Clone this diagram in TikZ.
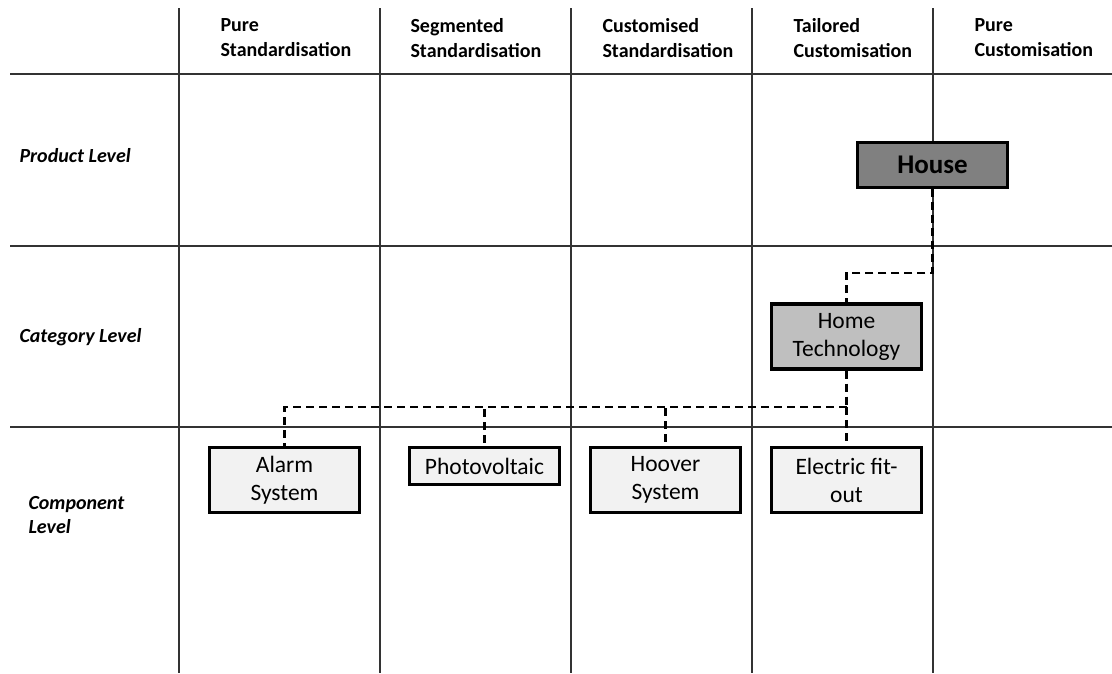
\documentclass[tikz,border=0pt]{standalone}
\usepackage{fontspec}
\setmainfont{Carlito}
\begin{document}
\begin{tikzpicture}[x=1pt,y=-1pt,
  grid/.style={line width=1.5pt,draw=black!80},
  colhead/.style={anchor=west,align=left,font=\fontsize{20}{25}\selectfont\bfseries},
  rowhead/.style={anchor=west,align=left,font=\fontsize{20}{24}\selectfont\bfseries\itshape},
  box/.style={draw=black,line width=3.4pt,minimum width=150pt,minimum height=65pt,
    align=center,inner sep=2pt,font=\fontsize{23.5}{28}\selectfont},
  comp/.style={box,fill=black!5},
  conn/.style={line width=2.3pt,dash pattern=on 8pt off 5pt}
]
\useasboundingbox (0,0) rectangle (1112,673);

% table grid
\foreach \xx in {179,380,571,752,933} \draw[grid] (\xx,8) -- (\xx,673);
\foreach \yy in {74,246,427} \draw[grid] (10,\yy) -- (1112,\yy);

% column headings
\node[colhead] (c1) at (217,38) {Pure\\Standardisation};
\node[colhead] (c2) at (407,38) {Segmented\\Standardisation};
\node[colhead] (c3) at (599,38) {Customised\\Standardisation};
\node[colhead] (c4) at (790,38) {Tailored\\Customisation};
\node[colhead] (c5) at (971,38) {Pure\\Customisation};

% row headings
\node[rowhead] (r1) at (16,156) {Product Level};
\node[rowhead] (r2) at (16,337) {Category Level};
\node[rowhead] (r3) at (25,515) {Component\\Level};

% hierarchy boxes
\node[box,fill=black!50,minimum height=45pt,font=\fontsize{27}{30}\selectfont\bfseries] (house) at (932.5,165) {House};
\node[box,fill=black!25] (ht) at (846.5,336.5) {Home\\Technology};
\node[comp] (alarm) at (284.5,480) {Alarm\\System};
\node[comp,minimum height=37pt] (pv) at (484.5,466) {Photovoltaic};
\node[comp] (hoover) at (665.5,480) {Hoover\\System};
\node[comp] (elec) at (846.5,480) {Electric fit-\\out};

% connectors
\coordinate (hj) at (932.5,273);
\coordinate (bus) at (846.5,407);
\draw[conn] (house.south) -- (hj) -| (ht.north);
\draw[conn] (ht.south) -- (bus);
\draw[conn] (bus) -| (alarm.north);
\draw[conn] (bus) -| (pv.north);
\draw[conn] (bus) -| (hoover.north);
\draw[conn] (bus) -- (elec.north);
\end{tikzpicture}
\end{document}
